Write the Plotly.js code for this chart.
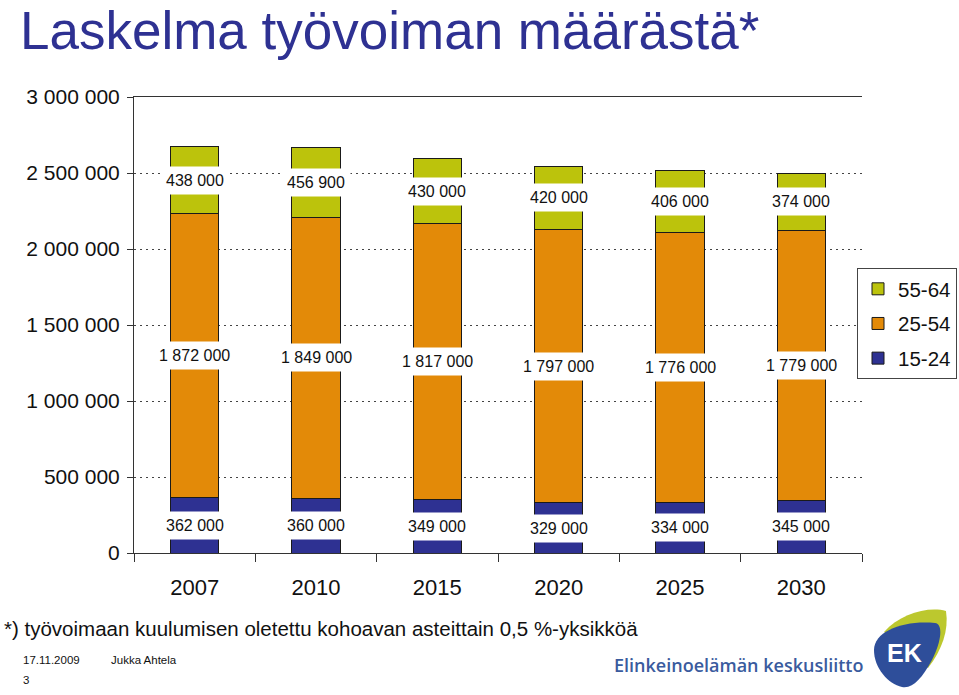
<!DOCTYPE html>
<html>
<head>
<meta charset="utf-8">
<script src="https://cdn.plot.ly/plotly-3.0.1.min.js"></script>
<style>
  html, body { margin: 0; padding: 0; background: #ffffff; }
  #chart { width: 959px; height: 695px; }
</style>
</head>
<body>
<div id="chart"></div>
<script>
// ---- data ----
const years = ['2007', '2010', '2015', '2020', '2025', '2030'];
const age15_24 = [362000, 360000, 349000, 329000, 334000, 345000];
const age25_54 = [1872000, 1849000, 1817000, 1797000, 1776000, 1779000];
const age55_64 = [438000, 456900, 430000, 420000, 406000, 374000];
const seriesNames = ['15-24', '25-54', '55-64'];
const yTickVals = [0, 500000, 1000000, 1500000, 2000000, 2500000, 3000000];
const yTickLabels = ['0', '500 000', '1 000 000', '1 500 000', '2 000 000', '2 500 000', '3 000 000'];

// ---- styling ----
const colors = ['#2E3192', '#E38A08', '#BCC30C'];
const FONT = 'Liberation Sans, Arial, sans-serif';
const W = 959, H = 695;
const M = { l: 134, r: 97, t: 97, b: 142, autoexpand: false };
const pw = W - M.l - M.r, ph = H - M.t - M.b;
const xp = px => (px - M.l) / pw;
const yp = py => (H - M.b - py) / ph;
const fmt = v => String(v).replace(/\B(?=(\d{3})+(?!\d))/g, ' ');

const seriesVals = [age15_24, age25_54, age55_64];
const traces = seriesVals.map((vals, i) => ({
  type: 'bar',
  name: seriesNames[i],
  legendgroup: seriesNames[i],
  legendrank: 1000 - i,
  x: years,
  y: vals,
  marker: { color: colors[i], line: { color: '#1a1a1a', width: 1 } },
  hoverinfo: 'x+y+name'
}));

// value labels at the middle of each segment (x = category index)
const annotations = [];
years.forEach((yr, j) => {
  let base = 0;
  seriesVals.forEach((vals) => {
    annotations.push({
      x: j, y: base + vals[j] / 2, xref: 'x', yref: 'y',
      text: fmt(vals[j]), showarrow: false,
      bgcolor: '#ffffff', borderpad: 5,
      font: { family: FONT, size: 16, color: '#111' }
    });
    base += vals[j];
  });
});

// footnote & footer texts
const pxText = (text, x, y, size, color, extra) => Object.assign({
  text, xref: 'paper', yref: 'paper', x: xp(x), y: yp(y),
  xanchor: 'left', yanchor: 'middle', showarrow: false,
  font: { family: FONT, size, color }
}, extra || {});
annotations.push(pxText('*) työvoimaan kuulumisen oletettu kohoavan asteittain 0,5 %-yksikköä', 2, 628, 20.5, '#111'));
annotations.push(pxText('17.11.2009', 21, 660, 11.5, '#111'));
annotations.push(pxText('Jukka Ahtela', 109, 660, 11.5, '#111'));
annotations.push(pxText('3', 21, 680, 11.5, '#111'));
annotations.push(pxText('Elinkeinoelämän keskusliitto', 612, 665, 18, '#3A5B9E', { font: { family: 'Open Sans, sans-serif', size: 18, color: '#3A5B9E', weight: 600 } }));
annotations.push(pxText('<b>EK</b>', 904, 653, 24, '#ffffff', { xanchor: 'center', font: { family: 'Liberation Sans, Arial', size: 25, color: '#ffffff' } }));

// logo shapes (decoration)
const pathFrom = segs => segs.map(s => {
  if (s[0] === 'Z') return 'Z';
  const cmd = s[0]; const pts = s.slice(1);
  let out = cmd;
  for (let k = 0; k < pts.length; k += 2) out += ' ' + xp(pts[k]).toFixed(5) + ',' + yp(pts[k + 1]).toFixed(5);
  return out;
}).join(' ');
const shapes = [
  { type: 'path', xref: 'paper', yref: 'paper', layer: 'above',
    path: pathFrom([['M', 884, 632], ['C', 900, 614, 928, 606, 946, 611], ['C', 949, 630, 942, 650, 928, 668], ['L', 905, 650], ['Z']]),
    fillcolor: '#BCC82E', line: { width: 0 } },
  { type: 'path', xref: 'paper', yref: 'paper', layer: 'above',
    path: pathFrom([['M', 874, 650], ['C', 874, 631, 904, 620, 935, 623], ['C', 943, 624, 942, 640, 932, 660], ['C', 922, 678, 913, 689, 902, 687], ['C', 888, 684, 874, 668, 874, 650], ['Z']]),
    fillcolor: '#2E4E9A', line: { width: 0 } }
];

const layout = {
  width: W, height: H,
  margin: M,
  paper_bgcolor: '#ffffff', plot_bgcolor: '#ffffff',
  barmode: 'stack', bargap: 0.6,
  font: { family: FONT, color: '#111' },
  title: {
    text: 'Laskelma työvoiman määrästä*',
    xref: 'container', yref: 'container',
    x: 20 / W, xanchor: 'left', y: 1 - 30 / H, yanchor: 'middle',
    font: { family: FONT, size: 53, color: '#2E3192' }
  },
  xaxis: {
    type: 'category', range: [-0.5, 5.5], autorange: false,
    tickson: 'boundaries', ticks: 'outside', ticklen: 8,
    tickcolor: '#333', showline: true, linecolor: '#333', linewidth: 1, mirror: true,
    tickfont: { family: FONT, size: 22, color: '#111' }, showgrid: false,
    tickangle: 0, ticklabelstandoff: 15, fixedrange: true
  },
  yaxis: {
    range: [0, 3000000], autorange: false, tickvals: yTickVals, ticktext: yTickLabels,
    ticks: 'outside', ticklen: 6, tickcolor: '#333',
    showline: true, linecolor: '#333', linewidth: 1,
    showgrid: true, gridcolor: '#444', griddash: '2px,4px', gridwidth: 1,
    zeroline: false, tickfont: { family: FONT, size: 21, color: '#111' },
    ticklabelstandoff: 3, fixedrange: true
  },
  legend: {
    x: xp(957), xanchor: 'right', y: yp(268), yanchor: 'top',
    traceorder: 'grouped', tracegroupgap: 5,
    bordercolor: '#444', borderwidth: 1,
    bgcolor: '#ffffff', font: { family: FONT, size: 20.5, color: '#111' },
    itemwidth: 30
  },
  showlegend: true,
  annotations, shapes
};

Plotly.newPlot('chart', traces, layout, { displayModeBar: false, staticPlot: true });
</script>
</body>
</html>
